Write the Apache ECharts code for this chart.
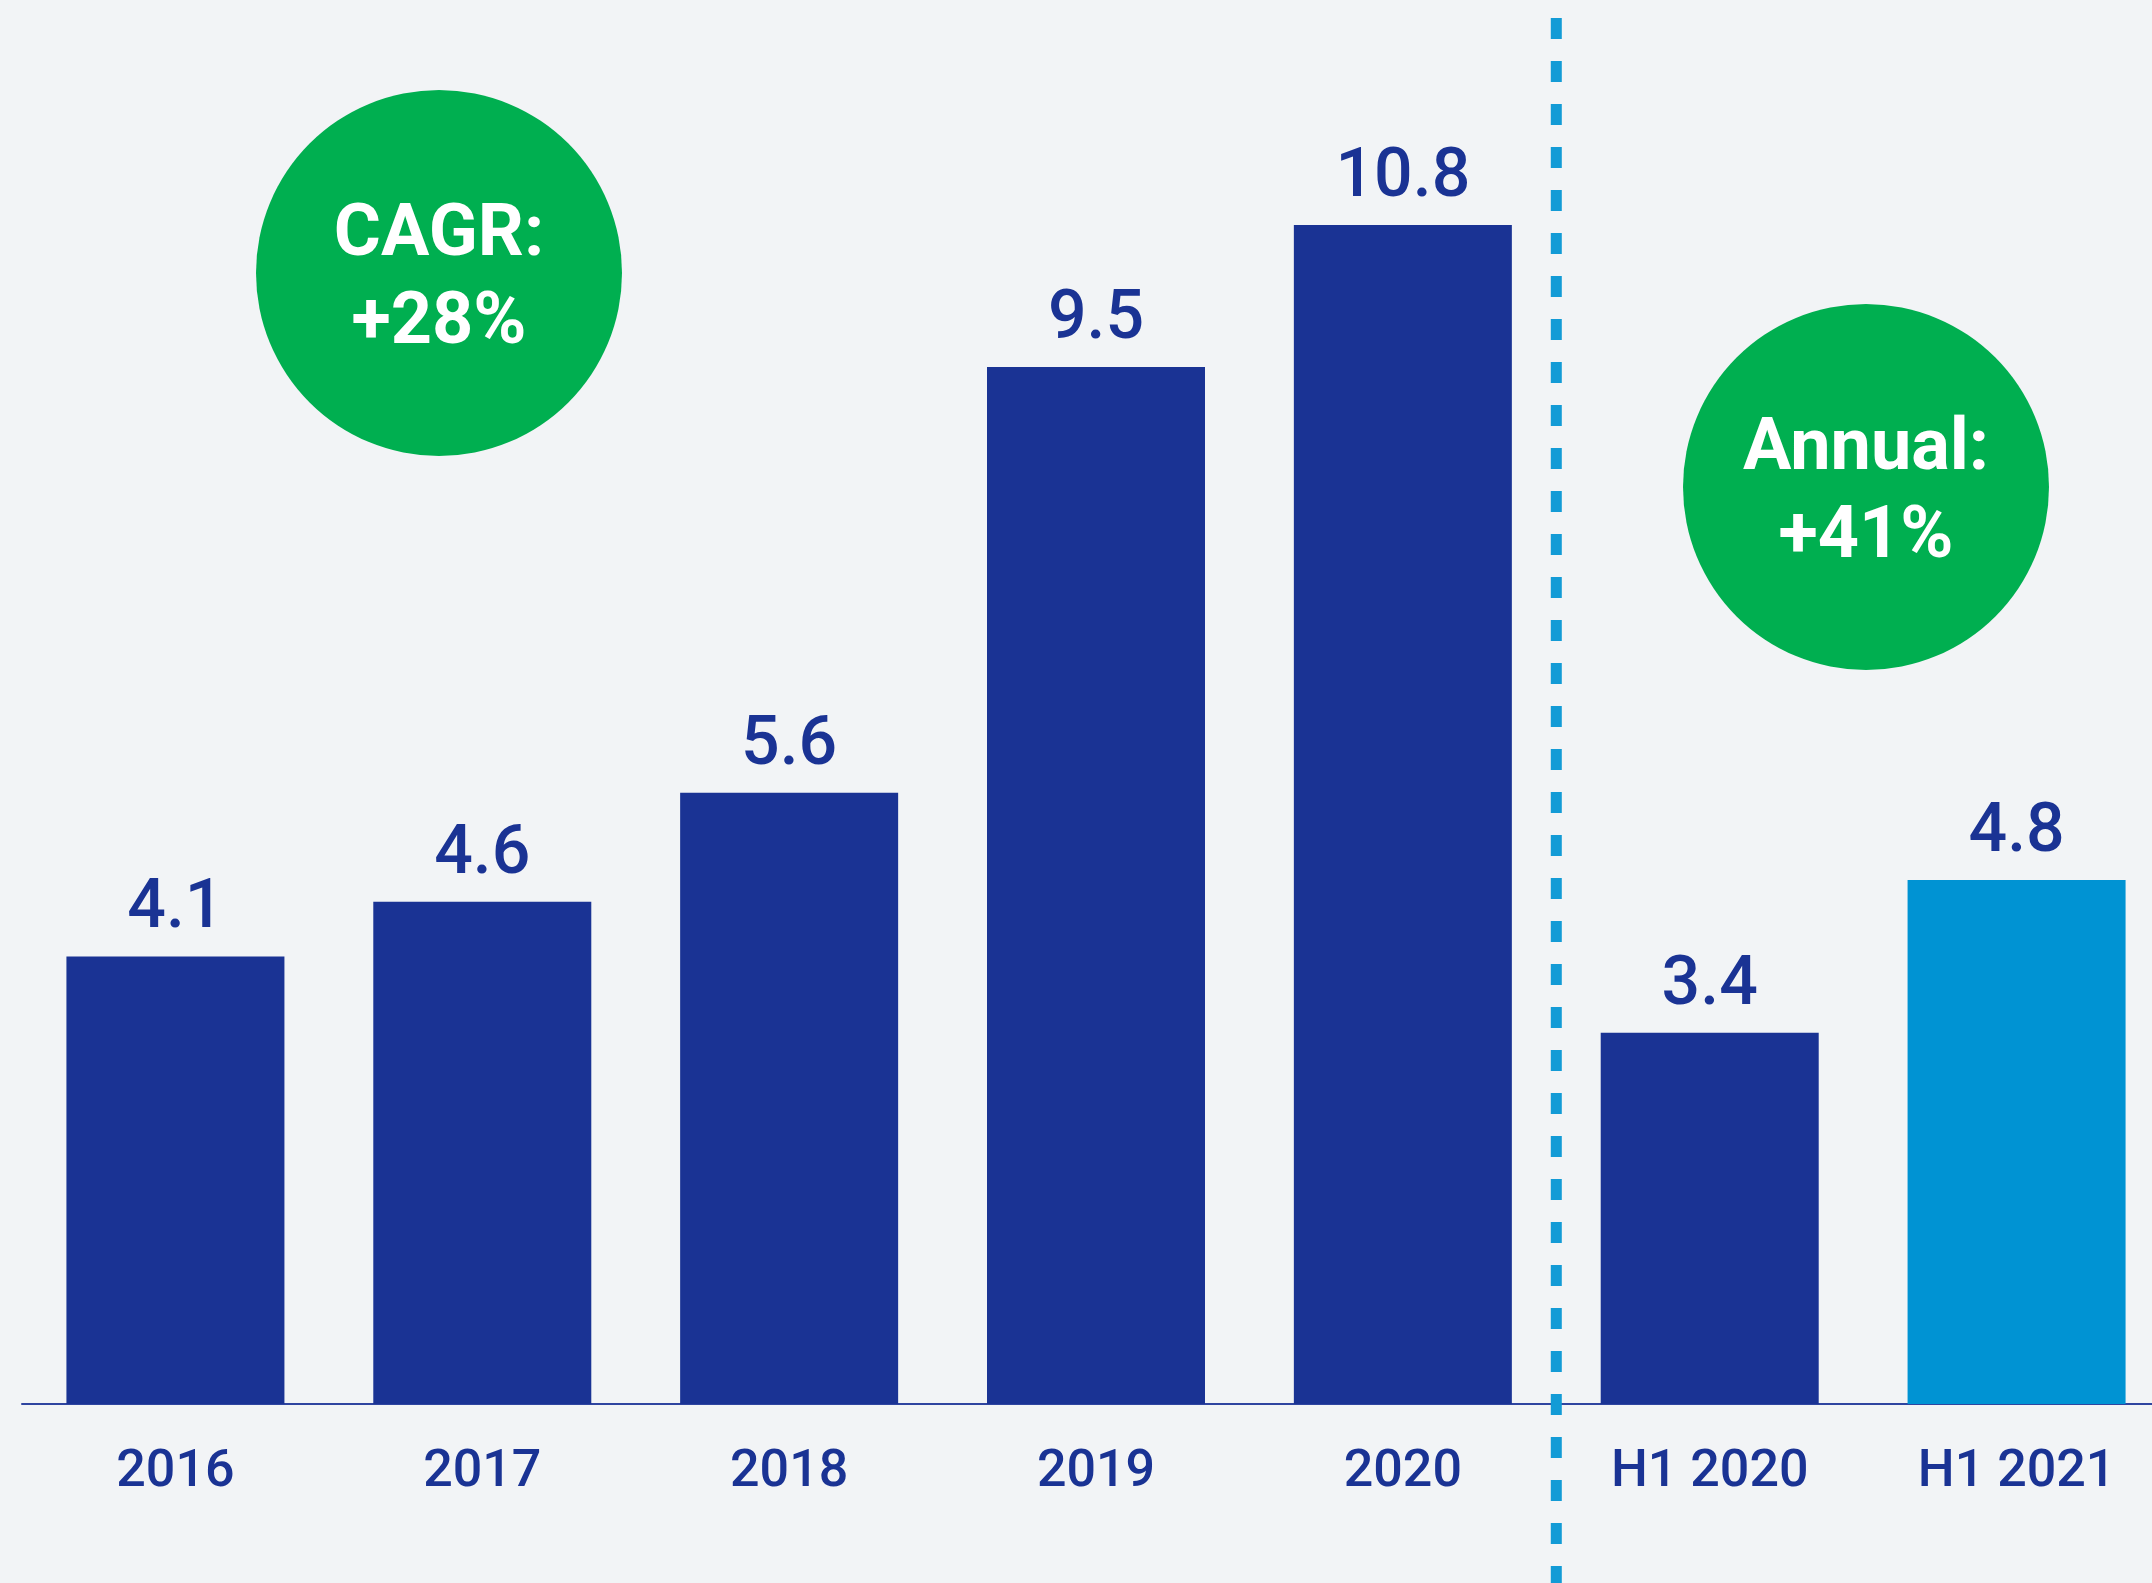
<!DOCTYPE html>
<html>
<head>
<meta charset="utf-8">
<title>Growth chart</title>
<script src="https://cdn.jsdelivr.net/npm/echarts@6/dist/echarts.min.js"></script>
<style>
  html, body { margin: 0; padding: 0; background: #f2f4f6; overflow: hidden; }
  #chart { width: 2152px; height: 1583px; }
</style>
</head>
<body>
<div id="chart"></div>
<script>
// data
const categories = ["2016", "2017", "2018", "2019", "2020", "H1 2020", "H1 2021"];
const values = [4.1, 4.6, 5.6, 9.5, 10.8, 3.4, 4.8];
const cagrText = ["CAGR:", "+28%"];
const annualText = ["Annual:", "+41%"];

const DARK = "#1a3394";
const LIGHT = "#0093d3";
const GREEN = "#00af50";

let chart = echarts.init(document.getElementById("chart"));

let option = {
  backgroundColor: "#f2f4f6",
  animation: false,
  // the last category runs a little past the right edge in the original
  grid: { left: 22, width: 2148, top: 94, bottom: 179, outerBoundsMode: "none", containLabel: false },
  xAxis: {
    type: "category",
    data: categories,
    axisTick: { show: false },
    axisLine: { lineStyle: { color: "#2f45a0", width: 2 } },
    axisLabel: {
      color: DARK,
      fontFamily: "Roboto",
      fontWeight: 500,
      fontSize: 52,
      margin: 43
    }
  },
  yAxis: { type: "value", min: 0, max: 12, show: false, splitLine: { show: false } },
  series: [
    {
      type: "bar",
      barWidth: 218,
      itemStyle: { color: DARK },
      label: {
        show: true,
        position: "top",
        distance: 12,
        color: DARK,
        fontFamily: "Roboto",
        fontWeight: 500,
        fontSize: 68,
        formatter: p => p.value.toFixed(1)
      },
      data: values.map((v, i) =>
        i === values.length - 1 ? { value: v, itemStyle: { color: LIGHT } } : v
      )
    }
  ]
};

chart.setOption(option);

// separator between the annual and half-year groups, placed from the axis scale
let xA = chart.convertToPixel({ xAxisIndex: 0 }, categories[4]);
let xB = chart.convertToPixel({ xAxisIndex: 0 }, categories[5]);
let sepX = (xA + xB) / 2;

function bubble(cx, cy, lines) {
  return {
    type: "circle",
    shape: { cx: cx, cy: cy, r: 183 },
    style: { fill: GREEN },
    textContent: {
      style: {
        text: lines.join("\n"),
        fill: "#fff",
        fontFamily: "Roboto",
        fontWeight: "bold",
        fontSize: 72,
        lineHeight: 88,
        align: "center"
      }
    },
    textConfig: { position: "inside", offset: [0, 8] }
  };
}

chart.setOption({
  graphic: [
    {
      type: "line",
      shape: { x1: sepX, y1: 18, x2: sepX, y2: 1583 },
      style: { stroke: "#139bd6", lineWidth: 11, lineDash: [21, 22] },
      z: 10
    },
    bubble(439, 273, cagrText),
    bubble(1866, 487, annualText)
  ]
});
</script>
</body>
</html>
